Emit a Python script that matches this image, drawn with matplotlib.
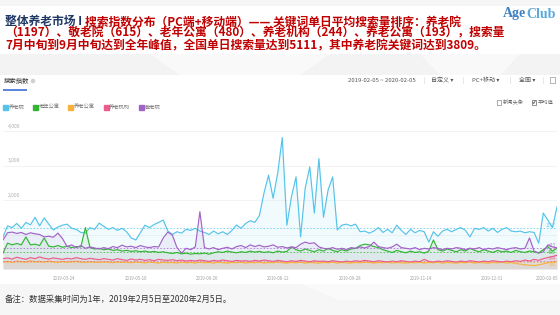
import numpy as np
import pandas as pd
import matplotlib
matplotlib.use("Agg")
import matplotlib.pyplot as plt
from matplotlib.patches import Rectangle, Polygon, Circle
from matplotlib.lines import Line2D
import matplotlib.transforms as mtransforms

plt.rcParams['font.family'] = ['Noto Sans CJK SC', 'DejaVu Sans']

# ---------------- data ----------------
start_date = "2019-02-05"
end_date = "2020-02-05"

series_names = ["养老院", "老年公寓", "养老公寓", "养老机构", "敬老院"]
series_colors = ["#55c3ea", "#33b533", "#f6b23c", "#ec5d8c", "#a263c6"]
series_avgs = [1197, 480, 193, 244, 615]

yanglaoyuan = [
    930, 1250, 1200, 1320, 1180, 1350, 1280, 1500, 1250, 1480,
    1300, 1130, 1220, 1270, 1300, 1180, 1150, 1060, 1040, 1200,
    1150, 1330, 1240, 1150, 1200, 1120, 1180, 1080, 900, 840,
    1050, 1270, 1200, 1290, 1350, 1420, 1100, 1000, 1080, 1040,
    1150, 1120, 1180, 1100, 1060, 1000, 1100, 1020, 1080, 1000,
    1120, 1275, 1180, 1320, 1400, 1350, 1550, 2200, 2720, 2050,
    2780, 3809, 1270, 2090, 2670, 930, 2340, 2960, 1620, 3200,
    1500, 2290, 2670, 1130, 1270, 1300, 1250, 1300, 1080, 1100,
    1040, 1100, 1200, 1060, 1150, 1050, 1270, 1120, 1000, 1150,
    1050, 1120, 1080, 780, 1080, 950, 1100, 1150, 1080, 1150,
    1200, 1120, 930, 1180, 1150, 1200, 1100, 1180, 1060, 1150,
    1200, 1100, 1080, 1100, 1050, 1080, 1060, 750, 1620, 1420,
    1200, 1800,
]

laonian_gongyu = [
    460, 750, 700, 740, 700, 930, 700, 720, 680, 900,
    660, 640, 680, 630, 660, 620, 650, 640, 1200, 620,
    580, 600, 560, 580, 540, 560, 520, 540, 510, 530,
    500, 520, 490, 510, 480, 500, 470, 450, 480, 440,
    460, 430, 450, 440, 460, 430, 470, 500, 480, 520,
    490, 470, 500, 480, 520, 490, 510, 480, 500, 470,
    520, 490, 510, 640, 560, 520, 580, 540, 500, 560,
    520, 600, 540, 500, 560, 520, 580, 600, 680, 720,
    700, 650, 620, 560, 520, 480, 540, 500, 470, 520,
    480, 500, 460, 520, 840, 560, 520, 580, 540, 500,
    560, 520, 600, 540, 500, 560, 520, 480, 540, 500,
    520, 480, 540, 500, 480, 520, 500, 470, 560, 650,
    520, 600,
]

yanglao_gongyu = [
    200, 220, 190, 230, 210, 200, 240, 210, 220, 200,
    230, 210, 190, 220, 200, 210, 230, 200, 190, 210,
    200, 190, 210, 200, 180, 210, 190, 200, 180, 210,
    190, 180, 200, 190, 170, 200, 180, 190, 170, 200,
    180, 190, 170, 200, 180, 190, 170, 200, 180, 170,
    190, 180, 200, 170, 190, 180, 200, 170, 190, 180,
    200, 180, 170, 190, 180, 200, 170, 190, 180, 170,
    190, 180, 200, 170, 190, 180, 170, 190, 180, 200,
    190, 170, 190, 180, 200, 170, 190, 180, 170, 190,
    180, 200, 170, 190, 180, 200, 170, 190, 180, 170,
    190, 180, 200, 170, 190, 180, 170, 190, 180, 200,
    170, 190, 160, 140, 120, 110, 100, 120, 150, 180,
    200, 220,
]

yanglao_jigou = [
    300, 320, 290, 340, 310, 280, 330, 300, 350, 310,
    290, 320, 300, 280, 310, 290, 330, 300, 280, 310,
    290, 270, 300, 280, 260, 300, 270, 250, 290, 260,
    280, 250, 270, 240, 280, 260, 250, 270, 240, 260,
    230, 250, 230, 260, 240, 220, 250, 230, 260, 240,
    220, 250, 230, 240, 220, 250, 230, 260, 240, 220,
    250, 230, 210, 240, 220, 250, 230, 210, 240, 220,
    230, 210, 240, 220, 200, 230, 210, 240, 220, 250,
    230, 210, 240, 220, 200, 230, 210, 240, 220, 200,
    230, 210, 280, 220, 200, 230, 210, 240, 220, 200,
    230, 210, 240, 220, 200, 230, 210, 240, 220, 200,
    230, 210, 240, 220, 260, 230, 280, 250, 300, 330,
    360, 400,
]

jinglaoyuan = [
    840, 1050, 1070, 1030, 1060, 1000, 1050, 1020, 1000, 930,
    950, 920, 1040, 880, 650, 700, 620, 680, 600, 640,
    610, 580, 620, 590, 650, 620, 690, 640, 660, 620,
    680, 640, 620, 650, 640, 900, 1070, 980, 620, 460,
    600, 560, 640, 1660, 620, 580, 620, 560, 600, 630,
    580, 650, 680, 620, 700, 650, 690, 640, 660, 700,
    630, 650, 610, 640, 620, 720, 780, 740, 760, 640,
    600, 580, 620, 570, 600, 560, 620, 600, 640, 610,
    650, 780, 650, 620, 600, 640, 720, 620, 600, 580,
    620, 560, 600, 580, 620, 600, 560, 600, 580, 620,
    600, 560, 600, 580, 620, 560, 600, 580, 620, 590,
    560, 600, 620, 580, 600, 900, 520, 460, 500, 700,
    640, 615,
]

series_values = [yanglaoyuan, laonian_gongyu, yanglao_gongyu, yanglao_jigou, jinglaoyuan]

x_tick_labels = ["2019-03-24", "2019-05-10", "2019-06-26", "2019-08-12",
                 "2019-09-28", "2019-11-14", "2019-12-31", "2020-02-05"]
y_tick_values = [0, 1000, 2000, 3000, 4000]
y_label_values = [2000, 3000, 4000]

dates = pd.date_range(start_date, end_date, periods=len(yanglaoyuan))

# ---------------- figure ----------------
W, H = 560, 315
fig = plt.figure(figsize=(W / 100, H / 100), dpi=100)
fig.patch.set_facecolor("white")

# full-figure layer in pixel coordinates for the page decorations
bg = fig.add_axes([0, 0, 1, 1], zorder=0)
bg.set_xlim(0, W)
bg.set_ylim(H, 0)
bg.axis("off")

# soft grey page bands
bg.add_patch(Rectangle((0, 54), W, 21, color="#f3f3f3", lw=0))
bg.add_patch(Polygon([(150, 54), (330, 54), (300, 75), (180, 75)], color="#f9f9f9", lw=0))
bg.add_patch(Polygon([(420, 54), (520, 54), (500, 75), (440, 75)], color="#f9f9f9", lw=0))
bg.add_patch(Rectangle((0, 0), W, 6, color="#f5f5f5", lw=0))
bg.add_patch(Rectangle((0, 284), W, 31, color="#f6f6f6", lw=0))
bg.add_patch(Polygon([(300, 284), (560, 284), (560, 300), (340, 300)], color="#fafafa", lw=0))

# title block
navy = "#1f3864"
red = "#c00000"
tsize = 8.5
t1 = bg.text(5, 21.7, "整体养老市场 I ", color=navy, fontsize=tsize, fontweight="bold",
             va="center", ha="left")
bg.annotate("搜索指数分布（PC端+移动端）—— 关键词单日平均搜索量排序：养老院",
            xy=(1, 0.5), xycoords=t1, va="center", ha="left", color=red,
            fontsize=tsize, fontweight="bold", annotation_clip=False)
bg.text(5, 33.3, "（1197）、敬老院（615）、老年公寓（480）、养老机构（244）、养老公寓（193），搜索量",
        color=red, fontsize=tsize, fontweight="bold", va="center", ha="left")
bg.text(5, 45.6, "7月中旬到9月中旬达到全年峰值，全国单日搜索量达到5111，其中养老院关键词达到3809。",
        color=red, fontsize=tsize, fontweight="bold", va="center", ha="left")

# logo
a1 = bg.text(503, 14, "Age", color="#3f82c4", fontsize=10, fontweight="bold",
             family="Liberation Serif", va="center", ha="left")
bg.annotate("Club", xy=(1, 0.5), xycoords=a1, va="center", ha="left", color="#5aa9dc",
            fontsize=10, fontweight="bold", family="Liberation Serif", annotation_clip=False)

# chart header
bg.text(4, 81, "搜索指数", color="#333333", fontsize=4.6, va="center", ha="left")
bg.add_patch(Circle((33, 81), 2.3, color="#d0d0d0", lw=0))
bg.plot([3, 27], [90, 90], color="#3d6fd9", lw=1.2, solid_capstyle="butt")
hdr = dict(color="#555555", fontsize=4.3, va="center", ha="left")
bg.text(348, 80, "2019-02-05 ~ 2020-02-05", **hdr)
bg.text(431, 80, "自定义 ▾", **hdr)
bg.text(472, 80, "PC+移动 ▾", **hdr)
bg.text(519, 80, "全国 ▾", **hdr)
for sx in (424, 463, 510, 543):
    bg.plot([sx, sx], [77, 83], color="#dddddd", lw=0.5)
bg.add_patch(Rectangle((550, 77), 5, 6, fill=False, ec="#999999", lw=0.5))

# checkboxes
bg.add_patch(Rectangle((497, 100), 4, 4.5, fill=False, ec="#888888", lw=0.5))
bg.text(503, 102.3, "新闻头条", color="#666666", fontsize=3.8, va="center", ha="left")
bg.add_patch(Rectangle((532, 100), 4, 4.5, fill=False, ec="#666666", lw=0.5))
bg.plot([532.8, 533.8, 535.3], [102.2, 103.6, 100.8], color="#444444", lw=0.5)
bg.text(538, 102.3, "平均值", color="#666666", fontsize=3.8, va="center", ha="left")

# legend
handles = [Line2D([], [], marker="s", linestyle="none", markersize=3.6,
                  markerfacecolor=c, markeredgecolor=c) for c in series_colors]
leg = bg.legend(handles, series_names, loc="center left", bbox_to_anchor=(3 / W, 1 - 107 / H),
                bbox_transform=fig.transFigure, ncol=5, frameon=False, fontsize=3.8,
                handlelength=0.8, handletextpad=0.3, columnspacing=1.6, borderaxespad=0,
                borderpad=0)
for txt in leg.get_texts():
    txt.set_color("#777777")

# footer
bg.text(5, 299, "备注：数据采集时间为1年，2019年2月5日至2020年2月5日。", color="#333333",
        fontsize=6.0, va="center", ha="left")

# ---------------- chart ----------------
ax = fig.add_axes([3 / W, 1 - 269 / H, 554 / W, 138 / H], zorder=1)
ax.set_facecolor("none")
ax.set_xlim(pd.Timestamp(start_date), pd.Timestamp(end_date))
ax.set_ylim(0, 4000)
for s in ax.spines.values():
    s.set_visible(False)

ax.set_yticks(y_tick_values)
ax.yaxis.grid(True, color="#f1f1f1", lw=0.6)
ax.tick_params(axis="y", length=0, labelleft=False)
ax.set_axisbelow(True)
ylab_tr = mtransforms.blended_transform_factory(ax.transAxes, ax.transData)
for v in y_label_values:
    ax.text(0.008, v + 60, f"{v:,}", transform=ylab_tr, fontsize=3.6, color="#b0b0b0",
            va="bottom", ha="left")

ax.set_xticks(pd.to_datetime(x_tick_labels))
ax.set_xticklabels(x_tick_labels)
ax.tick_params(axis="x", length=0, labelsize=3.1, labelcolor="#a0a0a0", pad=5)
shift = mtransforms.ScaledTranslation(-10 / 100, 0, fig.dpi_scale_trans)
for lab in ax.get_xticklabels():
    lab.set_transform(lab.get_transform() + shift)

for vals, col in zip(series_values, series_colors):
    ax.fill_between(dates, vals, 0, color=col, alpha=0.08, lw=0)
for vals, col in zip(series_values, series_colors):
    ax.plot(dates, vals, color=col, lw=0.85)
for avg, col in zip(series_avgs, series_colors):
    ax.axhline(avg, color=col, lw=0.6, ls=(0, (2, 2)), alpha=0.8)

# average value tags at the right edge
tag_offsets = {1197: 0, 615: 0, 480: -60, 244: -20, 193: -140}
for avg, col in zip(series_avgs, series_colors):
    ax.text(0.998, avg + tag_offsets[avg], str(avg), transform=ylab_tr, fontsize=3.2,
            color=col, alpha=0.8, va="bottom", ha="right")

fig.savefig("out.png", dpi=100, facecolor="white")
